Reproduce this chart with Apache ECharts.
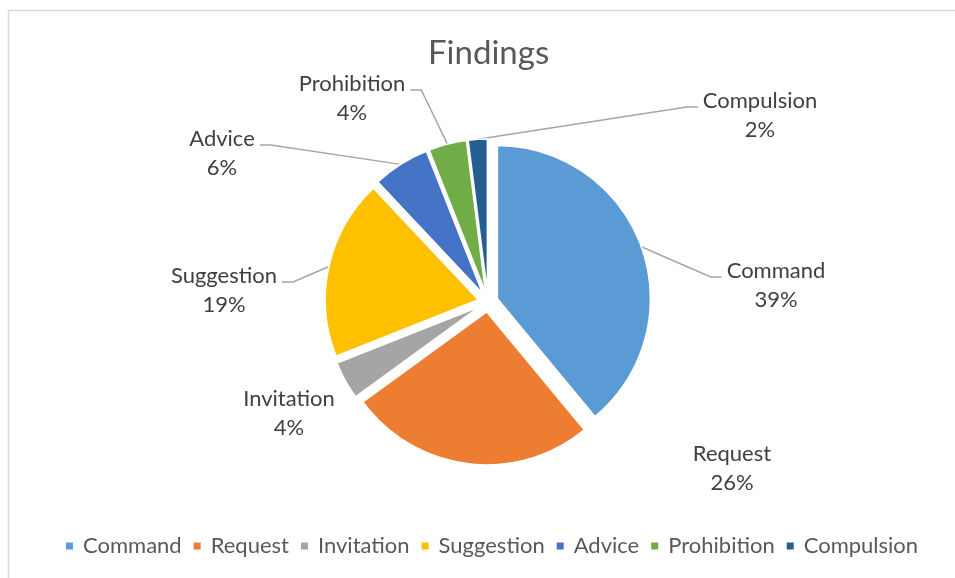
<!DOCTYPE html>
<html>
<head>
<meta charset="utf-8">
<script src="https://cdn.jsdelivr.net/npm/echarts@6/dist/echarts.min.js"></script>
<style>
  html, body { margin: 0; padding: 0; background: #fff; }
  #chart { width: 955px; height: 578px; }
</style>
</head>
<body>
<div id="chart"></div>
<script>
const categories = ['Command', 'Request', 'Invitation', 'Suggestion', 'Advice', 'Prohibition', 'Compulsion'];
const shares = [39, 26, 4, 19, 6, 4, 2];
const colors = ['#5B9BD5', '#ED7D31', '#A5A5A5', '#FFC000', '#4472C4', '#70AD47', '#255E91'];

// where Excel put each label (centre of the two-line text block)
const labelX = [776, 732, 289, 224, 222, 352, 760];
const labelY = [285, 468, 413, 290, 153, 98, 115];
const noLine = ['Request', 'Invitation'];

const pieCenter = [488, 302];
const explode = 10;
const font = 'Lato, "Noto Sans", sans-serif';

let chart = echarts.init(document.getElementById('chart'));

const option = {
    animation: false,
    color: colors,
    graphic: [{
        type: 'rect',
        shape: { x: 8.5, y: 10.5, width: 1000, height: 700 },
        style: { fill: 'none', stroke: '#D9D9D9', lineWidth: 1.5 },
        silent: true
    }],
    title: {
        text: 'Findings',
        left: 423,
        top: 32,
        textStyle: { fontFamily: font, fontSize: 33, fontWeight: 'normal', color: '#595959' }
    },
    legend: {
        data: categories,
        bottom: 16,
        left: 59,
        icon: 'rect',
        itemWidth: 9,
        itemHeight: 9,
        itemGap: 10,
        selectedMode: false,
        textStyle: { fontFamily: font, fontSize: 22, color: '#595959', padding: [0, 0, 0, 4] }
    },
    series: [{
        type: 'pie',
        center: pieCenter,
        radius: 153,
        startAngle: 90,
        clockwise: true,
        selectedMode: 'multiple',
        selectedOffset: explode,
        percentPrecision: 0,
        avoidLabelOverlap: false,
        emphasis: { scale: false },
        itemStyle: { borderColor: '#fff', borderWidth: 1.5 },
        label: {
            show: true,
            position: 'outside',
            formatter: '{t|{b}}\n{t|{d}%}',
            rich: {
                t: {
                    align: 'center',
                    fontFamily: font,
                    fontSize: 22,
                    lineHeight: 29,
                    color: '#404040'
                }
            }
        },
        labelLine: {
            show: true,
            length: 10,
            length2: 10,
            lineStyle: { color: '#A6A6A6', width: 1.5 }
        },
        labelLayout: (params) => {
            const r = params.labelRect;
            const i = params.dataIndex;
            // the exploded slice carries its label with it, so take that shift back out
            const a = params.labelLinePoints ? params.labelLinePoints[0] : [r.x, r.y];
            const vx = a[0] - pieCenter[0], vy = a[1] - pieCenter[1];
            const len = Math.sqrt(vx * vx + vy * vy) || 1;
            const ox = vx / len * explode, oy = vy / len * explode;
            const out = {
                dx: labelX[i] - (r.x + r.width / 2) - ox,
                dy: labelY[i] - (r.y + r.height / 2) - oy
            };
            if (params.labelLinePoints) {
                const right = labelX[i] > a[0];
                const side = right ? -1 : 1;
                const endX = labelX[i] + side * (r.width / 2 + 5);
                const endY = labelY[i] - 8;
                out.labelLinePoints = [
                    [a[0], a[1]],
                    [endX + side * 11 - ox, endY - oy],
                    [endX - ox, endY - oy]
                ];
            }
            return out;
        },
        data: categories.map((name, i) => ({
            name: name,
            value: shares[i],
            selected: true,
            labelLine: { show: noLine.indexOf(name) < 0 }
        }))
    }]
};

option && chart.setOption(option);
window.addEventListener('resize', chart.resize);
</script>
</body>
</html>
